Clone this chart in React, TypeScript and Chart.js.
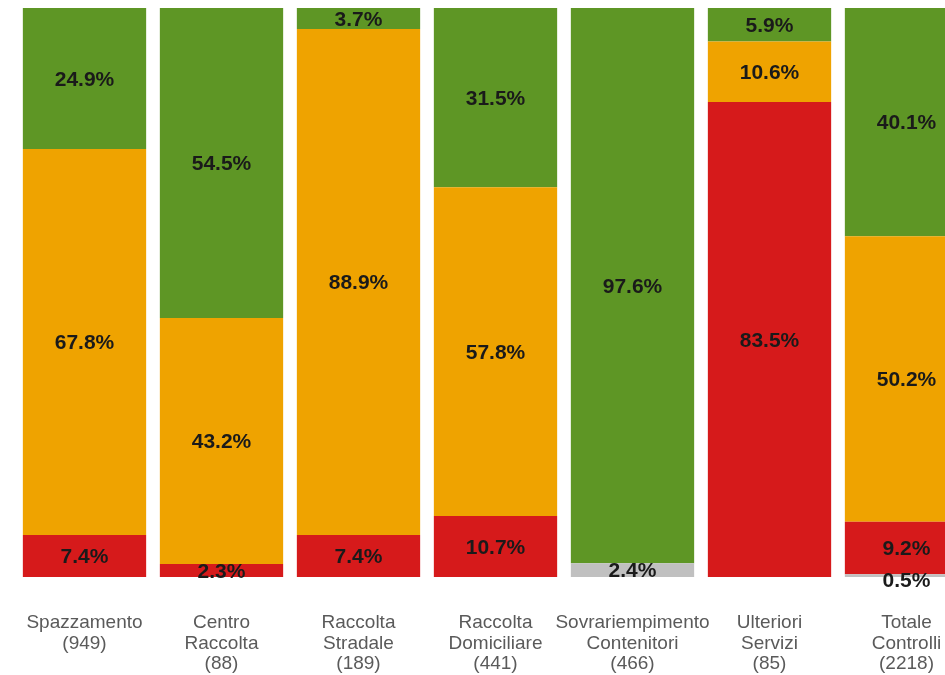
import React, { useEffect, useRef } from "react";
import { Chart, registerables } from "chart.js";

Chart.register(...registerables);

const categories: string[][] = [
  ["Spazzamento", "(949)"],
  ["Centro", "Raccolta", "(88)"],
  ["Raccolta", "Stradale", "(189)"],
  ["Raccolta", "Domiciliare", "(441)"],
  ["Sovrariempimento", "Contenitori", "(466)"],
  ["Ulteriori", "Servizi", "(85)"],
  ["Totale", "Controlli", "(2218)"],
];

const grayValues = [0, 0, 0, 0, 2.4, 0, 0.5];
const redValues = [7.4, 2.3, 7.4, 10.7, 0, 83.5, 9.2];
const orangeValues = [67.8, 43.2, 88.9, 57.8, 0, 10.6, 50.2];
const greenValues = [24.9, 54.5, 3.7, 31.5, 97.6, 5.9, 40.1];

const labelPlugin = {
  id: "segLabels",
  afterDatasetsDraw(chart: any) {
    const ctx = chart.ctx;
    ctx.save();
    ctx.font = "bold 21px 'Liberation Sans', Arial, sans-serif";
    ctx.fillStyle = "#1a1a1a";
    ctx.textAlign = "center";
    ctx.textBaseline = "middle";
    chart.data.datasets.forEach((ds: any, di: number) => {
      const meta = chart.getDatasetMeta(di);
      meta.data.forEach((bar: any, i: number) => {
        const v = ds.data[i];
        if (!v) return;
        const p = bar.getProps(["x", "y", "base"], true);
        let cy = (p.y + p.base) / 2;
        if (Math.abs(p.base - p.y) < 6) cy = p.base + 3;
        ctx.fillText(v.toFixed(1) + "%", p.x, cy + 1.5);
      });
    });
    ctx.restore();
  },
};

export default function App() {
  const ref = useRef<HTMLCanvasElement>(null);
  useEffect(() => {
    if (!ref.current) return;
    const chart = new Chart(ref.current, {
      type: "bar",
      data: {
        labels: categories,
        datasets: [
          { label: "n.d.", data: grayValues, backgroundColor: "#c0c0c0" },
          { label: "Rosso", data: redValues, backgroundColor: "#d61a1b" },
          { label: "Arancio", data: orangeValues, backgroundColor: "#efa300" },
          { label: "Verde", data: greenValues, backgroundColor: "#5e9625" },
        ],
      },
      options: {
        animation: false,
        responsive: false,
        maintainAspectRatio: false,
        layout: { padding: { left: 16, top: 8, right: 0, bottom: 0 } },
        datasets: { bar: { categoryPercentage: 0.9, barPercentage: 1.0, borderWidth: 0 } },
        plugins: { legend: { display: false }, tooltip: { enabled: false } },
        scales: {
          x: {
            stacked: true,
            grid: { display: false, drawTicks: false },
            border: { display: false },
            ticks: {
              color: "#5a5a5a",
              font: { family: "'Liberation Sans', Arial, sans-serif", size: 19, lineHeight: 1.1 },
              padding: 35,
              maxRotation: 0,
              autoSkip: false,
            },
            afterFit(scale: any) {
              scale.height = 98;
              scale.paddingLeft = 0;
              scale.paddingRight = 0;
            },
          },
          y: { stacked: true, display: false, min: 0, max: 100 },
        },
      },
      plugins: [labelPlugin],
    });
    return () => chart.destroy();
  }, []);
  return (
    <div style={{ position: "absolute", left: 0, top: 0, width: 945, height: 675, overflow: "hidden", background: "#fff" }}>
      <canvas ref={ref} width={975} height={675} style={{ display: "block" }} />
    </div>
  );
}
